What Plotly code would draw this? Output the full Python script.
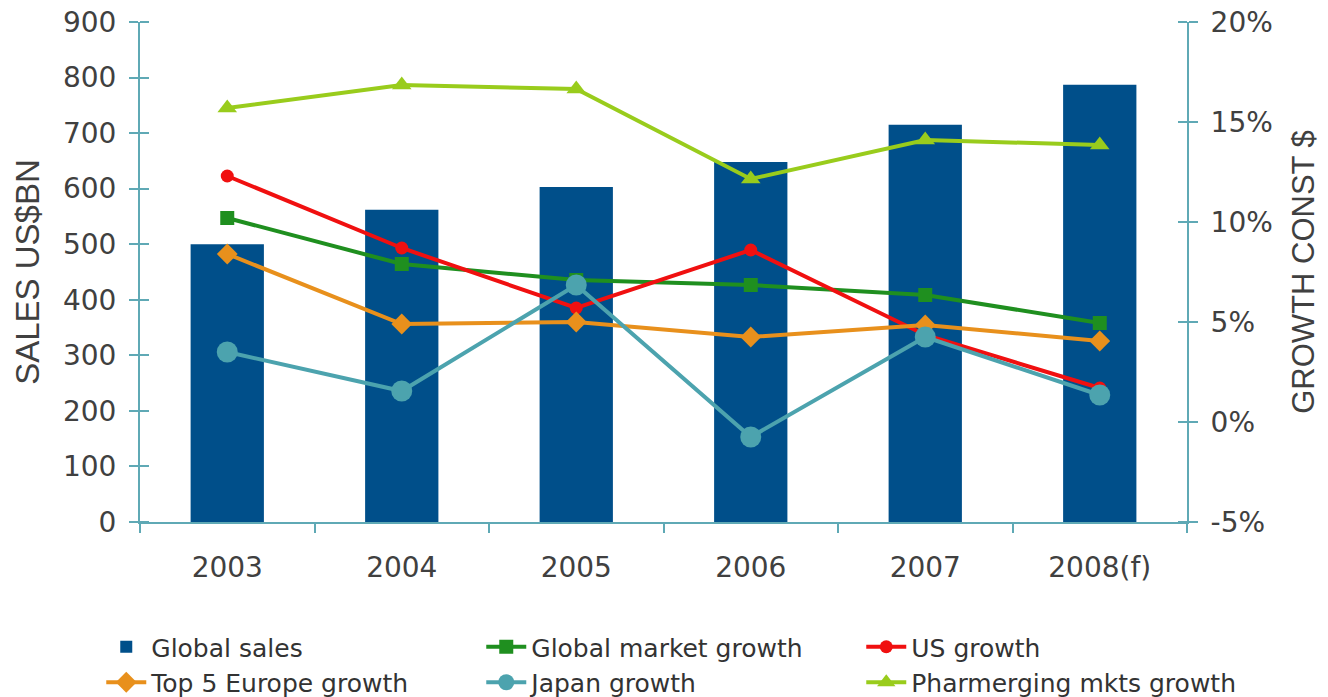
import plotly.graph_objects as go

years = ["2003", "2004", "2005", "2006", "2007", "2008(f)"]
global_sales = [500, 562, 603, 648, 715, 787]
global_market_growth = [10.2, 7.9, 7.1, 6.85, 6.35, 4.95]
us_growth = [12.3, 8.7, 5.7, 8.6, 4.35, 1.7]
top5_europe_growth = [8.4, 4.9, 5.0, 4.25, 4.85, 4.05]
japan_growth = [3.5, 1.55, 6.85, -0.75, 4.25, 1.35]
pharmerging_growth = [15.7, 16.85, 16.65, 12.15, 14.1, 13.85]
growth_tickvals = [-5, 0, 5, 10, 15, 20]
growth_ticktext = ["-5%", "0%", "5%", "10%", "15%", "20%"]

AXIS_COLOR = "#5fa9b5"
TEXT_COLOR = "#404040"
TICK_FONT = dict(family="DejaVu Sans, Verdana, sans-serif", size=28, color=TEXT_COLOR)
LEFT_TITLE_FONT = dict(family="Liberation Sans, Arial, sans-serif", size=33, color=TEXT_COLOR)
RIGHT_TITLE_FONT = dict(family="Liberation Sans, Arial, sans-serif", size=31, color=TEXT_COLOR)

fig = go.Figure()
fig.add_trace(go.Bar(x=years, y=global_sales, name="Global sales",
                     marker=dict(color="#004f8a", line=dict(width=0)), yaxis="y"))

line_specs = [
    ("Global market growth", global_market_growth, "#1f8f1f", "square", 14),
    ("US growth", us_growth, "#f01010", "circle", 13),
    ("Top 5 Europe growth", top5_europe_growth, "#e8901c", "diamond", 16),
    ("Japan growth", japan_growth, "#4ca3ae", "circle", 21),
    ("Pharmerging mkts growth", pharmerging_growth, "#99cc1c", "triangle-up", 17),
]
for name, vals, color, symbol, size in line_specs:
    fig.add_trace(go.Scatter(x=years, y=vals, name=name, yaxis="y2",
                             mode="lines+markers",
                             line=dict(color=color, width=4),
                             marker=dict(color=color, symbol=symbol, size=size)))

fig.update_layout(
    width=1328, height=697,
    margin=dict(l=140, r=141, t=22, b=175, autoexpand=False),
    paper_bgcolor="white", plot_bgcolor="white",
    bargap=0.58,
    showlegend=True,
    legend=dict(orientation="h", x=-0.037, y=-0.204, xanchor="left", yanchor="top",
                entrywidth=325, entrywidthmode="pixels",
                font=dict(family="DejaVu Sans, Verdana, sans-serif", size=25, color="#333333"),
                tracegroupgap=0, itemwidth=40),
    xaxis=dict(type="category", showline=True, linecolor=AXIS_COLOR, linewidth=2,
               ticks="outside", tickson="boundaries", ticklen=9, tickcolor=AXIS_COLOR,
               tickwidth=1.5, tickfont=TICK_FONT, showgrid=False, ticklabelstandoff=19,
               automargin=False),
    yaxis=dict(range=[0, 900], dtick=100, showline=True, linecolor=AXIS_COLOR, linewidth=2,
               ticks="outside", ticklen=9, tickcolor=AXIS_COLOR, tickwidth=1.5,
               minor=dict(ticks="inside", dtick=100, ticklen=9, tickcolor=AXIS_COLOR, tickwidth=1.5, showgrid=False),
               tickfont=TICK_FONT, showgrid=False, zeroline=False, ticklabelstandoff=7,
               automargin=False,
               title=dict(text="SALES US$BN", font=LEFT_TITLE_FONT, standoff=13)),
    yaxis2=dict(range=[-5, 20], tickvals=growth_tickvals, ticktext=growth_ticktext,
                overlaying="y", side="right",
                showline=True, linecolor=AXIS_COLOR, linewidth=2,
                ticks="outside", ticklen=9, tickcolor=AXIS_COLOR, tickwidth=1.5,
                minor=dict(ticks="inside", tickvals=growth_tickvals, ticklen=9, tickcolor=AXIS_COLOR, tickwidth=1.5, showgrid=False),
                tickfont=TICK_FONT, showgrid=False, zeroline=False, ticklabelstandoff=7,
                automargin=False,
                title=dict(text="GROWTH CONST $", font=RIGHT_TITLE_FONT, standoff=20)),
)

fig.write_html("out.html", config={"displayModeBar": False},
               post_script="document.body.style.margin='0px';")
